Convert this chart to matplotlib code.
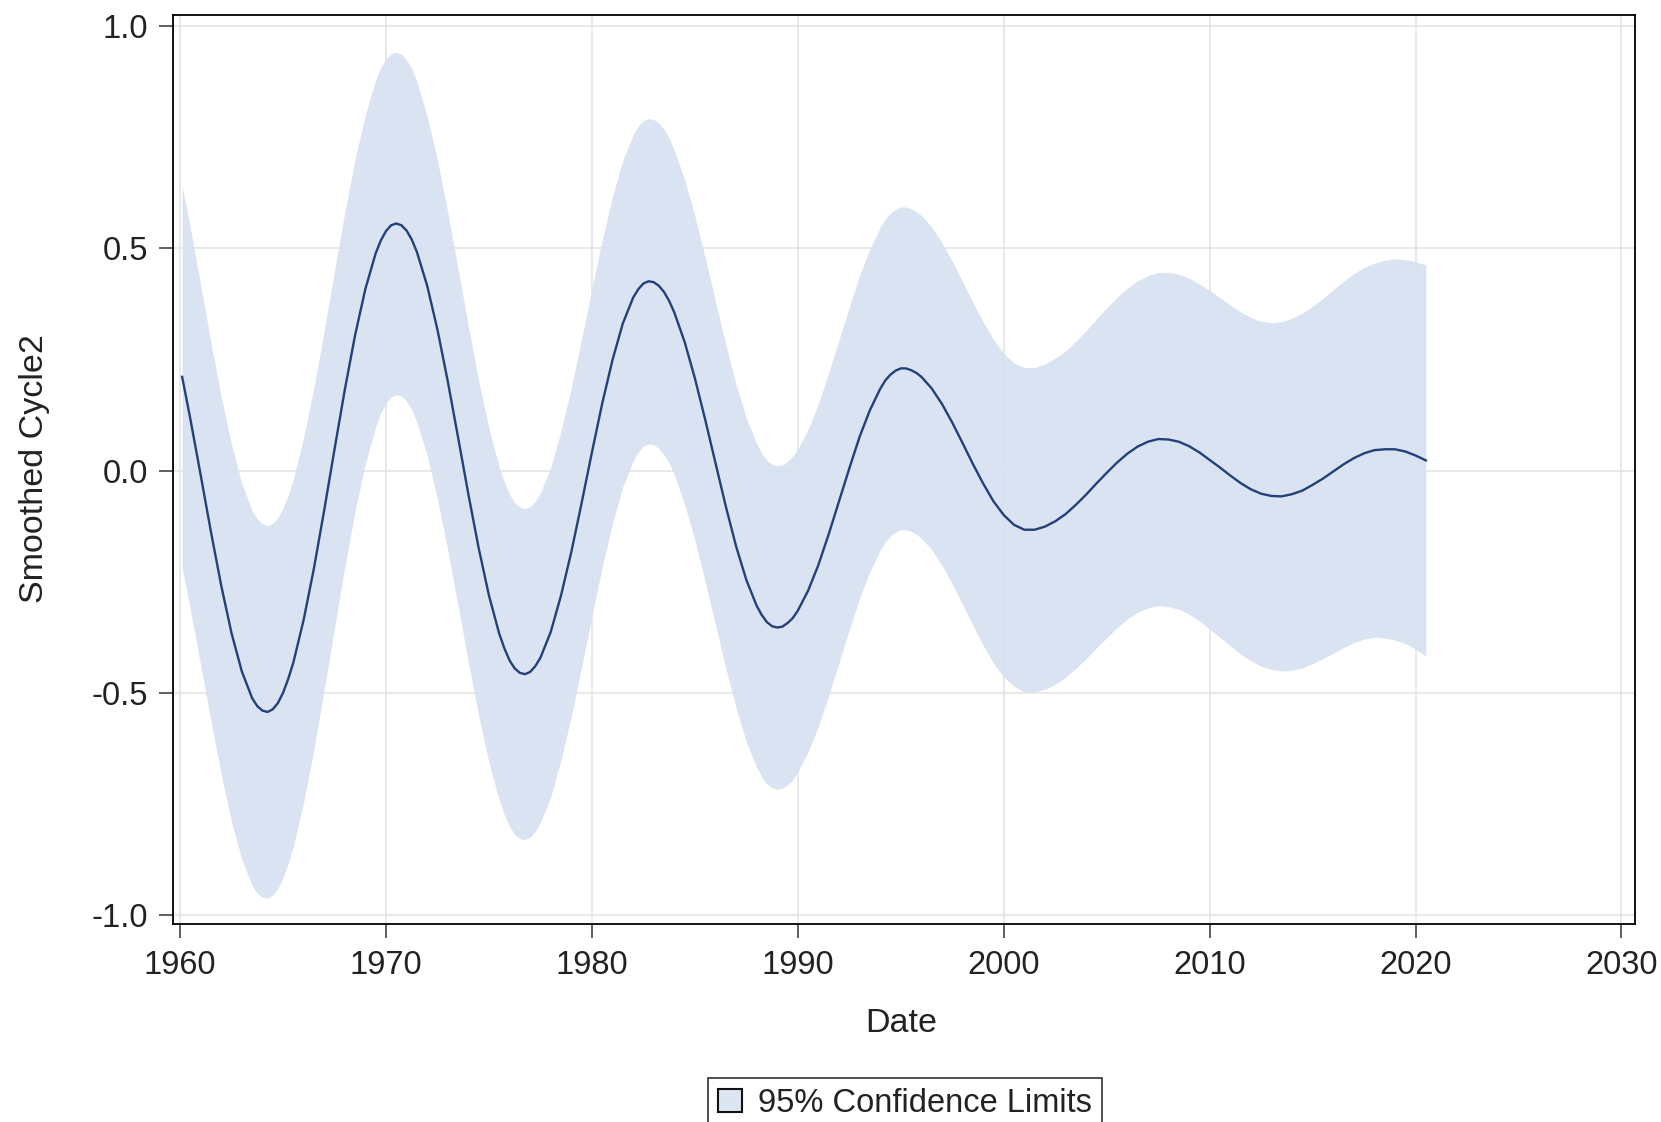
import matplotlib
matplotlib.use("Agg")
import matplotlib.pyplot as plt
from matplotlib.patches import Patch

plt.rcParams['font.family'] = ['Liberation Sans', 'DejaVu Sans']

# Dates (decimal years) with extra quarter-year points near the turning points
dates = [
    1960.1, 1960.5, 1961.0, 1961.5, 1962.0, 1962.5, 1963.0, 1963.5,
    1963.75, 1964.0, 1964.25, 1964.5, 1964.75, 1965.0, 1965.25, 1965.5,
    1966.0, 1966.5, 1967.0, 1967.5, 1968.0, 1968.5, 1969.0, 1969.5,
    1969.75, 1970.0, 1970.25, 1970.5, 1970.75, 1971.0, 1971.25,
    1971.5, 1972.0, 1972.5, 1973.0, 1973.5, 1974.0, 1974.5, 1975.0, 1975.5,
    1975.75, 1976.0, 1976.25, 1976.5, 1976.75, 1977.0, 1977.25,
    1977.5, 1978.0, 1978.5, 1979.0, 1979.5, 1980.0, 1980.5, 1981.0, 1981.5, 1982.0,
    1982.25, 1982.5, 1982.75, 1983.0, 1983.25, 1983.5, 1983.75,
    1984.0, 1984.5, 1985.0, 1985.5, 1986.0, 1986.5, 1987.0, 1987.5, 1988.0,
    1988.25, 1988.5, 1988.75, 1989.0, 1989.25, 1989.5, 1989.75,
    1990.0, 1990.5, 1991.0, 1991.5, 1992.0, 1992.5, 1993.0, 1993.5, 1994.0,
    1994.25, 1994.5, 1994.75, 1995.0, 1995.25, 1995.5, 1995.75,
    1996.0, 1996.5, 1997.0, 1997.5, 1998.0, 1998.5, 1999.0, 1999.5, 2000.0, 2000.5,
    2001.0, 2001.5, 2002.0, 2002.5, 2003.0, 2003.5, 2004.0, 2004.5, 2005.0, 2005.5,
    2006.0, 2006.5, 2007.0, 2007.5, 2008.0, 2008.5, 2009.0, 2009.5, 2010.0, 2010.5,
    2011.0, 2011.5, 2012.0, 2012.5, 2013.0, 2013.5, 2014.0, 2014.5, 2015.0, 2015.5,
    2016.0, 2016.5, 2017.0, 2017.5, 2018.0, 2018.5, 2019.0, 2019.5, 2020.0, 2020.5,
]

# Smoothed cycle estimate
smoothed = [
    0.211, 0.116, -0.010, -0.138, -0.259, -0.366, -0.452, -0.512,
    -0.530, -0.540, -0.543, -0.537, -0.523, -0.500, -0.469, -0.432,
    -0.336, -0.220, -0.089, 0.048, 0.182, 0.305, 0.409, 0.489,
    0.518, 0.539, 0.552, 0.556, 0.552, 0.540, 0.520,
    0.492, 0.416, 0.317, 0.201, 0.075, -0.053, -0.174, -0.281, -0.367,
    -0.400, -0.427, -0.445, -0.455, -0.458, -0.453, -0.440,
    -0.421, -0.363, -0.281, -0.183, -0.073, 0.041, 0.151, 0.249, 0.331, 0.389,
    0.408, 0.421, 0.426, 0.424, 0.416, 0.402, 0.382,
    0.356, 0.290, 0.208, 0.115, 0.017, -0.080, -0.170, -0.246, -0.304,
    -0.325, -0.341, -0.350, -0.353, -0.351, -0.343, -0.332,
    -0.315, -0.270, -0.212, -0.143, -0.069, 0.005, 0.076, 0.136, 0.184,
    0.203, 0.216, 0.225, 0.230, 0.230, 0.226, 0.220,
    0.211, 0.185, 0.150, 0.108, 0.062, 0.015, -0.029, -0.069, -0.100, -0.122,
    -0.133, -0.133, -0.126, -0.114, -0.098, -0.077, -0.054, -0.029, -0.005, 0.018,
    0.038, 0.054, 0.065, 0.071, 0.070, 0.065, 0.055, 0.041, 0.024, 0.007,
    -0.011, -0.028, -0.042, -0.052, -0.057, -0.058, -0.053, -0.045, -0.032, -0.018,
    -0.002, 0.014, 0.028, 0.039, 0.046, 0.048, 0.048, 0.043, 0.034, 0.023,
]

# Upper 95% confidence limit
upper = [
    0.641, 0.545, 0.418, 0.288, 0.166, 0.058, -0.029, -0.090,
    -0.109, -0.120, -0.124, -0.119, -0.106, -0.084, -0.055, -0.019,
    0.074, 0.187, 0.315, 0.450, 0.581, 0.701, 0.802, 0.879,
    0.907, 0.926, 0.938, 0.941, 0.937, 0.924, 0.904,
    0.875, 0.798, 0.698, 0.581, 0.454, 0.325, 0.203, 0.095, 0.008,
    -0.026, -0.053, -0.072, -0.082, -0.086, -0.081, -0.069,
    -0.050, 0.008, 0.089, 0.187, 0.296, 0.410, 0.519, 0.617, 0.698, 0.756,
    0.775, 0.787, 0.792, 0.790, 0.782, 0.768, 0.748,
    0.721, 0.655, 0.573, 0.480, 0.381, 0.284, 0.194, 0.118, 0.060,
    0.039, 0.023, 0.014, 0.011, 0.013, 0.021, 0.032,
    0.048, 0.093, 0.151, 0.220, 0.294, 0.368, 0.439, 0.499, 0.547,
    0.566, 0.579, 0.588, 0.593, 0.593, 0.589, 0.583,
    0.574, 0.548, 0.513, 0.471, 0.425, 0.378, 0.335, 0.295, 0.264, 0.242,
    0.232, 0.232, 0.240, 0.253, 0.269, 0.291, 0.315, 0.341, 0.366, 0.390,
    0.410, 0.427, 0.439, 0.446, 0.446, 0.442, 0.433, 0.420, 0.405, 0.389,
    0.372, 0.357, 0.344, 0.336, 0.333, 0.335, 0.343, 0.354, 0.370, 0.387,
    0.407, 0.426, 0.443, 0.457, 0.467, 0.473, 0.477, 0.475, 0.470, 0.463,
]

# Lower 95% confidence limit
lower = [
    -0.219, -0.313, -0.438, -0.564, -0.684, -0.790, -0.875, -0.934,
    -0.951, -0.960, -0.962, -0.955, -0.940, -0.916, -0.884, -0.845,
    -0.746, -0.627, -0.493, -0.354, -0.217, -0.091, 0.016, 0.099,
    0.130, 0.152, 0.166, 0.171, 0.168, 0.156, 0.137,
    0.109, 0.034, -0.064, -0.179, -0.304, -0.431, -0.551, -0.657, -0.742,
    -0.775, -0.801, -0.819, -0.828, -0.830, -0.825, -0.812,
    -0.792, -0.734, -0.651, -0.553, -0.442, -0.328, -0.217, -0.119, -0.036, 0.022,
    0.042, 0.055, 0.060, 0.058, 0.050, 0.036, 0.017,
    -0.009, -0.075, -0.157, -0.250, -0.347, -0.444, -0.534, -0.610, -0.668,
    -0.689, -0.705, -0.714, -0.717, -0.715, -0.707, -0.696,
    -0.678, -0.633, -0.575, -0.506, -0.432, -0.358, -0.287, -0.227, -0.179,
    -0.160, -0.147, -0.138, -0.133, -0.133, -0.137, -0.143,
    -0.152, -0.178, -0.213, -0.255, -0.301, -0.348, -0.393, -0.433, -0.464, -0.486,
    -0.498, -0.498, -0.492, -0.481, -0.465, -0.445, -0.423, -0.399, -0.376, -0.354,
    -0.334, -0.319, -0.309, -0.304, -0.306, -0.312, -0.323, -0.338, -0.357, -0.375,
    -0.394, -0.413, -0.428, -0.440, -0.447, -0.451, -0.449, -0.444, -0.434, -0.423,
    -0.411, -0.398, -0.387, -0.379, -0.375, -0.377, -0.381, -0.389, -0.402, -0.417,
]

x_ticks = [1960, 1970, 1980, 1990, 2000, 2010, 2020, 2030]
y_ticks = [-1.0, -0.5, 0.0, 0.5, 1.0]

band_color = '#d5e0f0'
line_color = '#24407a'
text_color = '#222222'

fig = plt.figure(figsize=(16.61, 11.22), dpi=100)
ax = fig.add_axes([0.1042, 0.1765, 0.8802, 0.8101])

ax.fill_between(dates, lower, upper, color=band_color, alpha=0.88,
                linewidth=0, zorder=2)
ax.plot(dates, smoothed, color=line_color, linewidth=1.7, zorder=3,
        solid_joinstyle='round')

ax.set_xlim(1959.66, 2030.66)
ax.set_ylim(-1.020, 1.025)
ax.set_xticks(x_ticks)
ax.set_yticks(y_ticks)
ax.set_yticklabels([f'{v:.1f}' for v in y_ticks])

ax.grid(True, color='#e3e3e3', linewidth=1.1, zorder=1)
ax.set_axisbelow(True)

for side in ax.spines.values():
    side.set_color('black')
    side.set_linewidth(1.3)

ax.tick_params(axis='both', direction='out', length=10, width=1.1,
               color='#333333', labelsize=23.5, labelcolor=text_color)
ax.tick_params(axis='x', pad=9)
ax.tick_params(axis='y', pad=8)

fig.text(901 / 1661, 1 - 1023 / 1122, 'Date', ha='center', va='center',
         fontsize=24.5, color=text_color)
fig.text(35 / 1661, 1 - 469 / 1122, 'Smoothed Cycle2', ha='center',
         va='center', rotation=90, fontsize=24.5, color=text_color)

handle = Patch(facecolor='#dce5f2', edgecolor='#111111', linewidth=1.5)
leg = fig.legend([handle], ['95% Confidence Limits'], loc='upper center',
                 bbox_to_anchor=(905 / 1661, 1 - 1078 / 1122),
                 fontsize=23.5, frameon=True, fancybox=False,
                 handlelength=0.75, handleheight=0.68, handletextpad=0.5,
                 borderpad=0.3, borderaxespad=0.0)
leg.get_frame().set_edgecolor('#111111')
leg.get_frame().set_linewidth(1.3)
for t in leg.get_texts():
    t.set_color(text_color)

fig.savefig('out.png', dpi=100, facecolor='white')
